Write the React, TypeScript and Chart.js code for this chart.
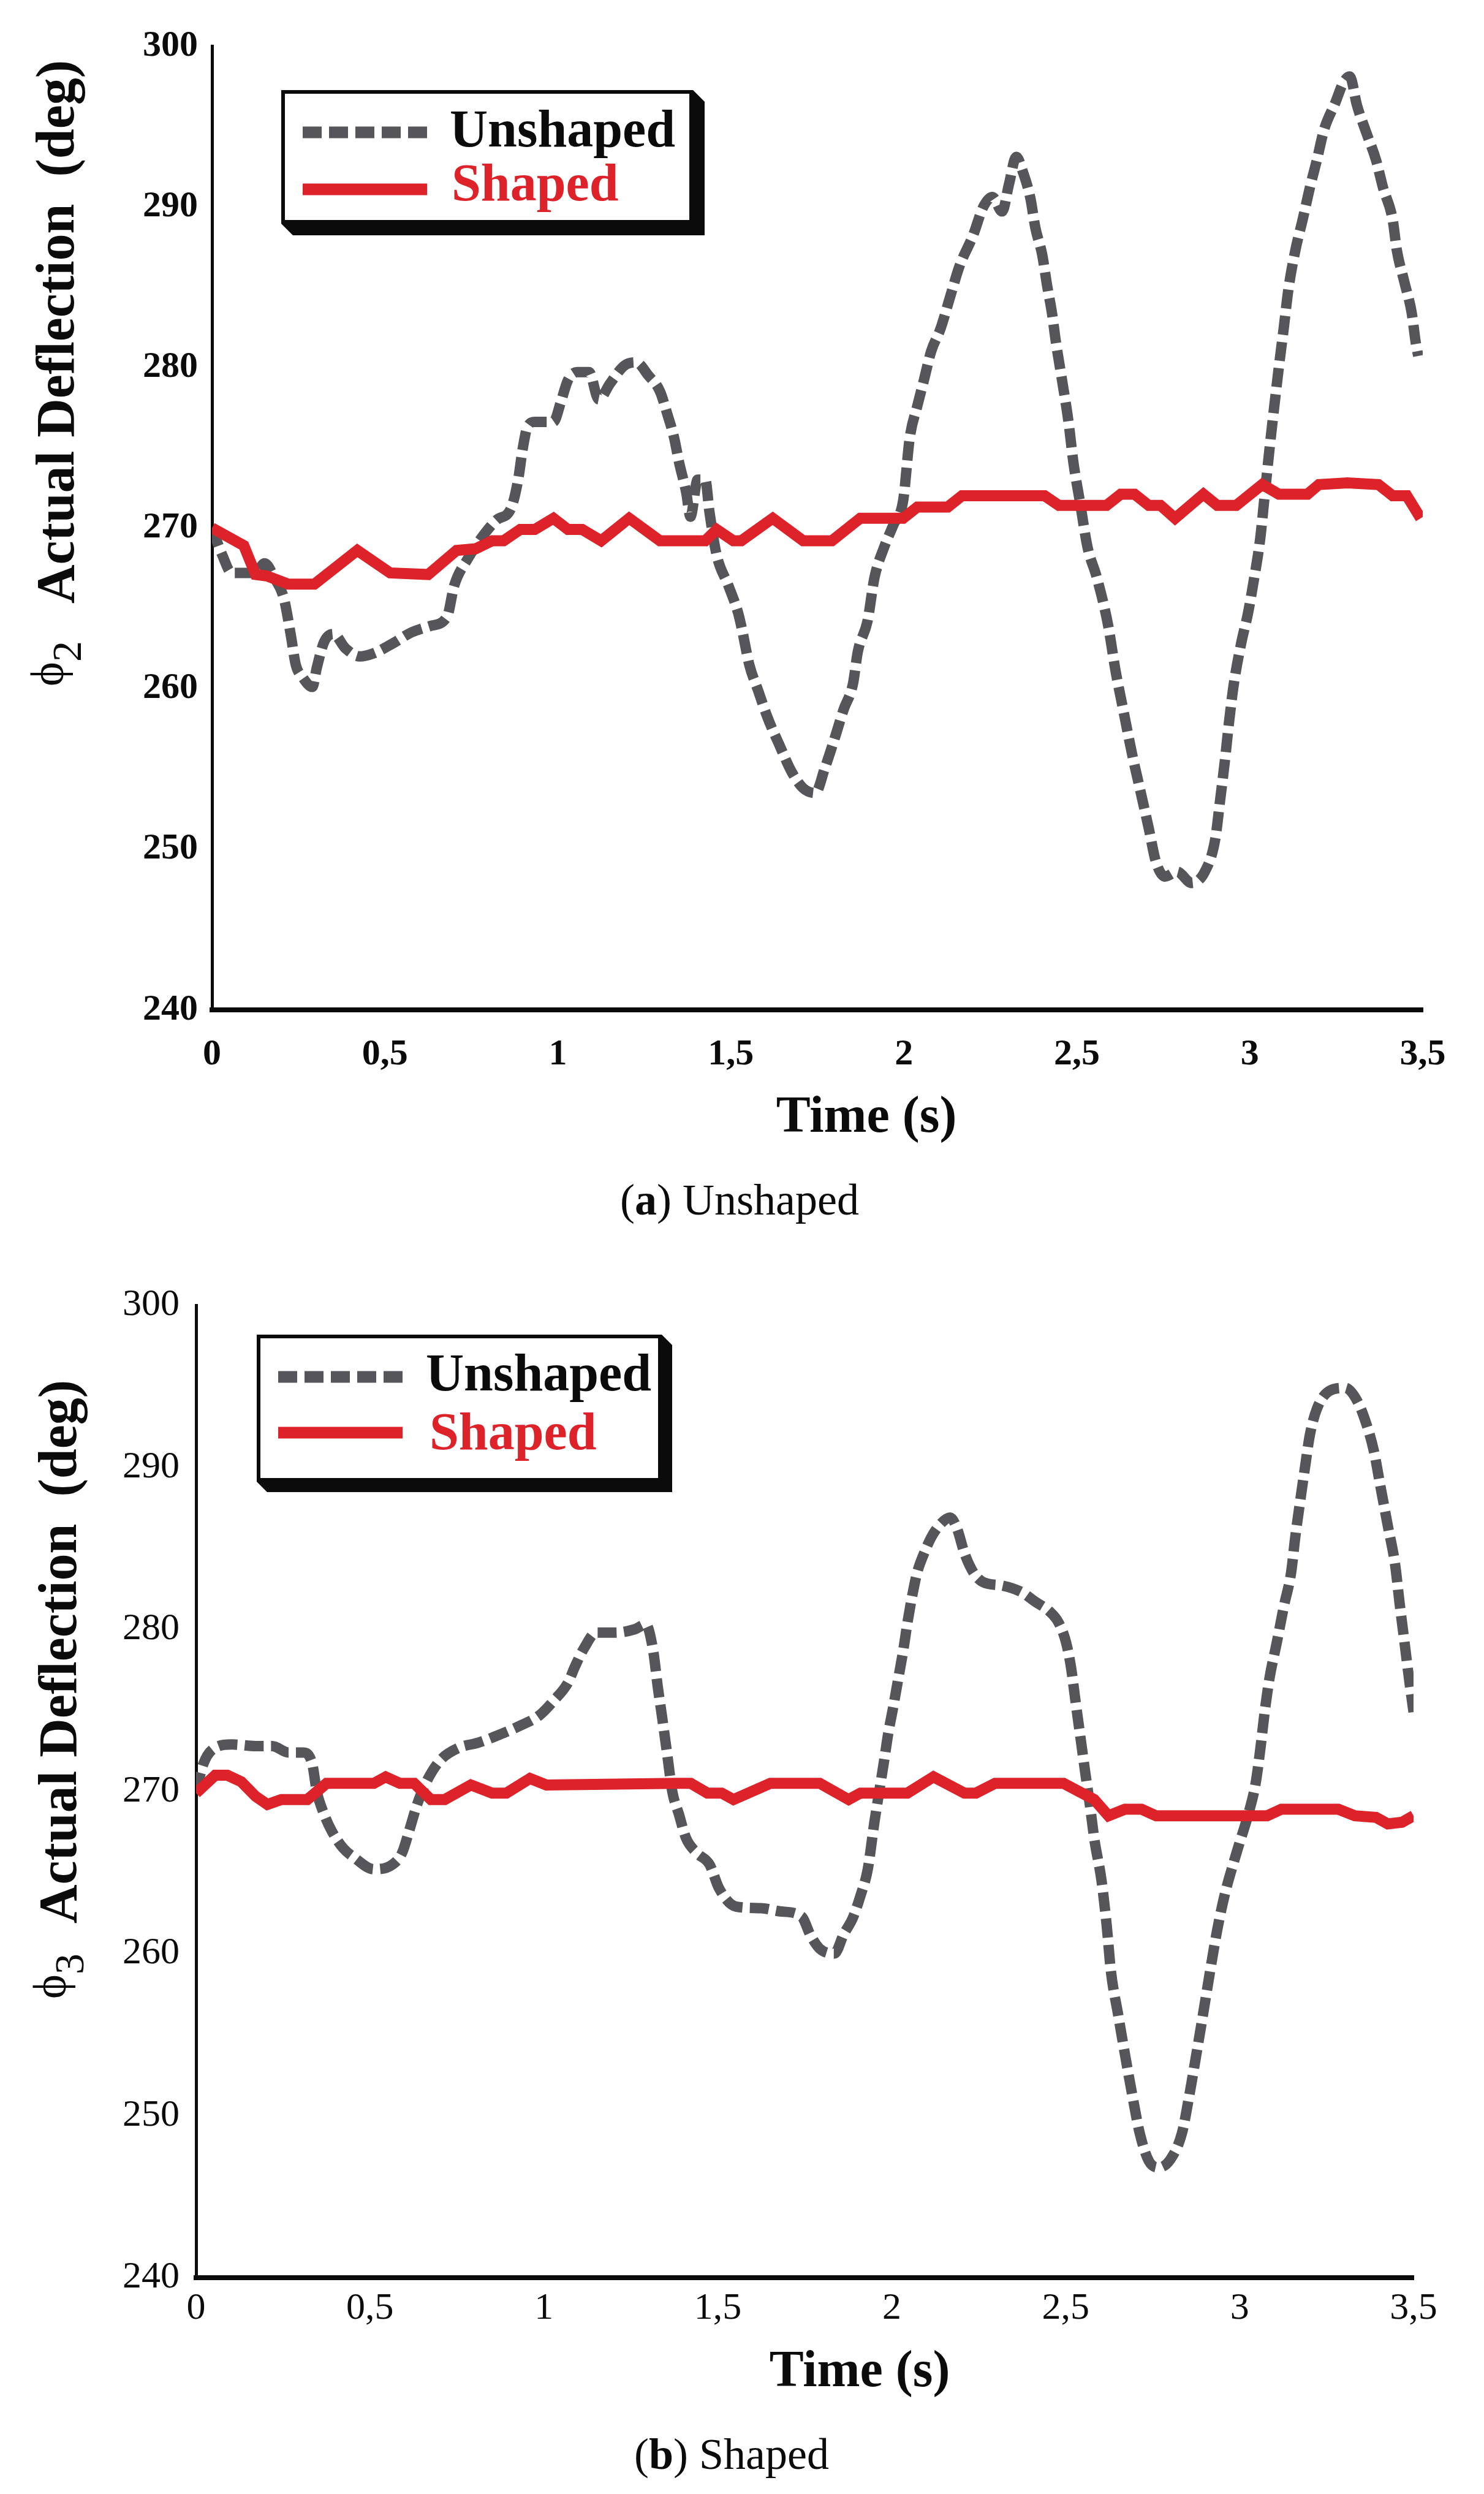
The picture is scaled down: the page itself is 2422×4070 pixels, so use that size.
import React, { useEffect, useRef } from 'react';
import { Chart, registerables } from 'chart.js';

Chart.register(...registerables);

// ---- data ----
const seriesNames = ['Unshaped', 'Shaped'];
const timeTickLabels = ['0', '0,5', '1', '1,5', '2', '2,5', '3', '3,5'];
const timeRange = [0, 3.5];
const deflectionRange = [240, 300];

// (a) phi2, unshaped input
const unshapedTimeA = [
  0, 0.03, 0.057, 0.126, 0.152, 0.18, 0.208, 0.228, 0.242, 0.262, 0.29, 0.303, 0.324, 0.351, 0.386,
  0.427, 0.468, 0.522, 0.577, 0.632, 0.68, 0.7, 0.74, 0.783, 0.823, 0.864, 0.885, 0.898, 0.912, 0.933,
  0.987, 1.008, 1.029, 1.056, 1.09, 1.118, 1.151, 1.192, 1.227, 1.261, 1.295, 1.316, 1.336, 1.35,
  1.371, 1.383, 1.404, 1.426, 1.438, 1.459, 1.493, 1.521, 1.532, 1.553, 1.58, 1.606, 1.642, 1.676,
  1.709, 1.744, 1.771, 1.8, 1.826, 1.853, 1.867, 1.895, 1.915, 1.943, 1.97, 1.998, 2.017, 2.039,
  2.058, 2.079, 2.106, 2.134, 2.161, 2.2, 2.23, 2.256, 2.284, 2.304, 2.325, 2.345, 2.366, 2.38, 2.4,
  2.414, 2.428, 2.44, 2.455, 2.476, 2.49, 2.51, 2.531, 2.558, 2.59, 2.612, 2.634, 2.66, 2.682, 2.708,
  2.729, 2.755, 2.79, 2.832, 2.87, 2.9, 2.914, 2.928, 2.94, 2.954, 2.975, 2.995, 3.009, 3.03, 3.043,
  3.057, 3.071, 3.084, 3.098, 3.112, 3.132, 3.153, 3.174, 3.194, 3.215, 3.248, 3.27, 3.289, 3.31,
  3.337, 3.365, 3.385, 3.413, 3.425, 3.447, 3.468, 3.48, 3.487,
];
const unshapedDeflA = [
  270.0, 268.3, 267.2, 267.2, 267.8, 266.9, 265.6, 263.3, 261.5, 260.7, 260.1, 261.3, 262.9, 263.4, 262.5,
  262.0, 262.2, 262.8, 263.5, 263.9, 264.5, 266.4, 268.1, 269.5, 270.5, 271.2, 273.0, 274.9, 276.3, 276.6,
  276.6, 277.8, 279.2, 279.7, 279.7, 278.0, 279.0, 280.1, 280.3, 279.5, 278.5, 277.1, 275.6, 274.1,
  272.2, 270.7, 273.0, 273.0, 271.0, 268.3, 266.4, 264.7, 263.7, 261.5, 259.8, 258.2, 256.4, 254.8,
  253.8, 253.5, 255.0, 256.9, 258.7, 260.3, 262.3, 264.2, 266.9, 268.8, 270.2, 271.7, 275.6, 277.6,
  279.2, 281.0, 282.4, 284.4, 286.3, 288.2, 290.0, 290.6, 289.7, 291.4, 293.1, 292.1, 290.5, 288.7, 287.0,
  285.1, 283.4, 281.5, 279.5, 276.6, 274.1, 271.5, 268.8, 266.9, 264.0, 261.1, 258.7, 255.9, 253.8, 251.3,
  249.2, 248.3, 248.6, 247.9, 248.6, 250.6, 253.0, 255.5, 257.9, 260.3, 262.8, 264.7, 266.4, 269.3, 272.0,
  274.9, 277.6, 280.0, 282.4, 284.9, 287.3, 289.2, 291.2, 292.9, 294.8, 296.5, 297.7, 298.1, 296.3,
  294.6, 292.9, 291.2, 289.2, 287.3, 285.3, 283.4, 281.5, 280.7,
];
const shapedTimeA = [
  0, 0.092, 0.126, 0.16, 0.22, 0.296, 0.42, 0.515, 0.625, 0.707, 0.762, 0.81, 0.843, 0.891, 0.933,
  0.987, 1.029, 1.07, 1.125, 1.206, 1.295, 1.426, 1.459, 1.507, 1.53, 1.621, 1.709, 1.792, 1.874,
  1.998, 2.039, 2.127, 2.168, 2.407, 2.448, 2.586, 2.627, 2.667, 2.708, 2.742, 2.784, 2.866, 2.906,
  2.961, 3.036, 3.084, 3.167, 3.2, 3.282, 3.372, 3.413, 3.454, 3.494,
];
const shapedDeflA = [
  270.0, 268.9, 267.1, 267.0, 266.5, 266.5, 268.6, 267.2, 267.1, 268.6, 268.7, 269.2, 269.2, 269.9, 269.9,
  270.6, 269.9, 269.9, 269.2, 270.6, 269.2, 269.2, 269.9, 269.2, 269.2, 270.6, 269.2, 269.2, 270.6,
  270.6, 271.3, 271.3, 272.0, 272.0, 271.4, 271.4, 272.1, 272.1, 271.4, 271.4, 270.6, 272.1, 271.4,
  271.4, 272.7, 272.1, 272.1, 272.7, 272.8, 272.7, 272.0, 272.0, 270.6,
];

// (b) phi3, shaped input
const unshapedTimeB = [
  0, 0.021, 0.048, 0.103, 0.171, 0.219, 0.266, 0.307, 0.334, 0.347, 0.368, 0.389, 0.423, 0.456, 0.511,
  0.565, 0.592, 0.613, 0.634, 0.66, 0.701, 0.756, 0.81, 0.872, 0.926, 0.987, 1.028, 1.069, 1.089,
  1.117, 1.15, 1.205, 1.26, 1.293, 1.314, 1.327, 1.341, 1.355, 1.369, 1.388, 1.409, 1.44, 1.476,
  1.504, 1.552, 1.624, 1.679, 1.74, 1.767, 1.793, 1.835, 1.862, 1.888, 1.909, 1.931, 1.95, 1.964,
  1.978, 1.99, 2.005, 2.019, 2.033, 2.045, 2.059, 2.073, 2.093, 2.114, 2.14, 2.168, 2.188, 2.209,
  2.235, 2.264, 2.318, 2.373, 2.413, 2.454, 2.48, 2.501, 2.515, 2.528, 2.542, 2.556, 2.57, 2.582,
  2.603, 2.618, 2.63, 2.651, 2.671, 2.692, 2.713, 2.739, 2.767, 2.801, 2.834, 2.855, 2.875, 2.896,
  2.915, 2.936, 2.958, 2.984, 2.998, 3.025, 3.046, 3.06, 3.072, 3.086, 3.107, 3.127, 3.148, 3.16,
  3.174, 3.188, 3.202, 3.222, 3.257, 3.303, 3.338, 3.364, 3.386, 3.405, 3.426, 3.447, 3.46, 3.474,
  3.488, 3.5,
];
const unshapedDeflB = [
  270.0, 271.7, 272.6, 272.9, 272.8, 272.8, 272.4, 272.4, 271.7, 270.0, 268.6, 267.6, 266.5, 265.9, 265.2,
  265.5, 266.2, 267.6, 269.1, 270.5, 271.9, 272.7, 273.0, 273.5, 274.0, 274.7, 275.6, 276.7, 277.7,
  278.9, 279.8, 279.8, 280.0, 280.3, 278.7, 276.5, 274.4, 272.2, 270.0, 268.6, 267.1, 266.2, 265.5,
  264.0, 262.9, 262.8, 262.6, 262.3, 261.1, 260.3, 260.0, 261.2, 262.2, 263.5, 265.2, 268.1, 270.0,
  271.9, 273.6, 275.3, 277.0, 278.7, 280.4, 282.1, 283.5, 284.7, 285.7, 286.5, 286.9, 286.2, 284.7,
  283.5, 282.9, 282.7, 282.3, 281.7, 281.1, 280.4, 279.2, 277.7, 275.6, 273.4, 271.2, 269.1, 267.1,
  264.5, 261.7, 258.9, 256.2, 253.7, 251.2, 248.9, 247.2, 246.8, 247.3, 248.9, 251.2, 253.7, 256.4,
  258.9, 261.5, 263.7, 265.7, 266.7, 268.6, 270.5, 272.7, 274.9, 277.0, 279.2, 281.4, 283.5, 285.7,
  287.9, 290.0, 292.0, 293.6, 294.7, 294.9, 294.1, 292.7, 291.0, 288.8, 286.4, 284.0, 281.6, 279.2,
  276.8, 274.9,
];
const shapedTimeB = [
  0, 0.055, 0.09, 0.13, 0.171, 0.205, 0.245, 0.32, 0.375, 0.511, 0.545, 0.586, 0.627, 0.675, 0.715,
  0.79, 0.851, 0.892, 0.96, 1.007, 1.381, 1.422, 1.47, 1.511, 1.545, 1.651, 1.793, 1.876, 1.91, 2.045,
  2.12, 2.209, 2.242, 2.297, 2.494, 2.582, 2.623, 2.67, 2.718, 2.76, 2.915, 3.079, 3.12, 3.284, 3.331,
  3.392, 3.426, 3.467, 3.5,
];
const shapedDeflB = [
  269.9, 271.0, 271.0, 270.6, 269.7, 269.2, 269.5, 269.5, 270.5, 270.5, 270.9, 270.5, 270.5, 269.5, 269.5,
  270.4, 269.9, 269.9, 270.8, 270.4, 270.5, 270.5, 269.9, 269.9, 269.5, 270.5, 270.5, 269.5, 269.9, 269.9,
  270.9, 269.9, 269.9, 270.5, 270.5, 269.5, 268.5, 268.9, 268.9, 268.5, 268.5, 268.5, 268.9, 268.9, 268.5,
  268.4, 268.0, 268.1, 268.5,
];

const GREY = '#55555a';
const RED = '#dd2229';
const INK = '#0b0b0b';
const SERIF = '"Liberation Serif", "Times New Roman", serif';
const PHI_FONT = '"Liberation Serif", "DejaVu Serif", serif';

const toPoints = (t: number[], v: number[]) => t.map((x, i) => ({ x, y: v[i] }));

interface PanelProps {
  top: number;
  height: number;
  area: { left: number; right: number; top: number; bottom: number };
  unshapedT: number[];
  unshapedV: number[];
  shapedT: number[];
  shapedV: number[];
  tickWeight: 'bold' | 'normal';
  tickSize: number;
  yTickPad: number;
  xTickPad: number;
  legend: {
    x: number; y: number; w: number; h: number; shadow: number;
    lineX1: number; lineX2: number; textX: number[];
    lineY: number[]; baseY: number[];
  };
  yTitle: { sub: string; phiX: number; phiY: number; subX: number; subY: number; textX: number; textY: number };
  xTitle: { x: number; y: number };
}

function Panel(p: PanelProps) {
  const canvasRef = useRef<HTMLCanvasElement>(null);
  const chartRef = useRef<Chart | null>(null);

  useEffect(() => {
    if (!canvasRef.current) return;
    const ctx = canvasRef.current.getContext('2d');
    if (!ctx) return;
    if (chartRef.current) chartRef.current.destroy();

    // legend box, axis titles (mixed fonts / rotated) drawn by hand
    const decor = {
      id: 'decor',
      afterDraw(chart: Chart) {
        const c = chart.ctx;
        const L = p.legend;
        c.save();
        // extruded shadow
        c.fillStyle = INK;
        c.beginPath();
        c.moveTo(L.x + L.w, L.y);
        c.lineTo(L.x + L.w + L.shadow, L.y + L.shadow);
        c.lineTo(L.x + L.w + L.shadow, L.y + L.h + L.shadow);
        c.lineTo(L.x + L.shadow, L.y + L.h + L.shadow);
        c.lineTo(L.x, L.y + L.h);
        c.closePath();
        c.fill();
        c.fillStyle = '#fff';
        c.fillRect(L.x, L.y, L.w, L.h);
        c.lineWidth = 6;
        c.strokeStyle = INK;
        c.strokeRect(L.x + 3, L.y + 3, L.w - 6, L.h - 6);

        chart.data.datasets.forEach((ds: any, i: number) => {
          c.beginPath();
          c.lineWidth = 19;
          c.lineCap = 'butt';
          c.strokeStyle = ds.borderColor;
          c.setLineDash(ds.borderDash || []);
          c.moveTo(L.lineX1, L.lineY[i]);
          c.lineTo(L.lineX2, L.lineY[i]);
          c.stroke();
          c.setLineDash([]);
          c.font = `bold 86px ${SERIF}`;
          c.fillStyle = i === 0 ? INK : RED;
          c.textBaseline = 'alphabetic';
          c.textAlign = 'left';
          c.fillText(ds.label, L.textX[i], L.baseY[i]);
        });

        const rot = (text: string, font: string, x: number, y: number) => {
          c.save();
          c.translate(x, y);
          c.rotate(-Math.PI / 2);
          c.font = font;
          c.fillStyle = INK;
          c.textAlign = 'left';
          c.textBaseline = 'alphabetic';
          c.fillText(text, 0, 0);
          c.restore();
        };
        const T = p.yTitle;
        rot('\u03D5', `76px ${PHI_FONT}`, T.phiX, T.phiY);
        rot(T.sub, `68px ${SERIF}`, T.subX, T.subY);
        rot('Actual Deflection  (deg)', `bold 88px ${SERIF}`, T.textX, T.textY);

        c.font = `bold 84px ${SERIF}`;
        c.fillStyle = INK;
        c.textAlign = 'center';
        c.textBaseline = 'middle';
        c.fillText('Time (s)', p.xTitle.x, p.xTitle.y);
        c.restore();
      },
    };

    const tickFont = { family: SERIF, size: p.tickSize, weight: p.tickWeight };

    chartRef.current = new Chart(ctx, {
      type: 'line',
      data: {
        datasets: [
          {
            label: seriesNames[0],
            data: toPoints(p.unshapedT, p.unshapedV),
            borderColor: GREY,
            borderWidth: 17,
            borderDash: [31, 12],
            borderCapStyle: 'butt',
            cubicInterpolationMode: 'monotone',
            pointRadius: 0,
            fill: false,
            order: 1,
          },
          {
            label: seriesNames[1],
            data: toPoints(p.shapedT, p.shapedV),
            borderColor: RED,
            borderWidth: 18,
            tension: 0,
            pointRadius: 0,
            fill: false,
            order: 0,
          },
        ],
      },
      options: {
        animation: false,
        responsive: false,
        devicePixelRatio: 1,
        layout: {
          padding: { left: 0, top: p.area.top, right: 2422 - p.area.right, bottom: 0 },
        },
        plugins: {
          legend: { display: false },
          tooltip: { enabled: false },
        },
        scales: {
          x: {
            type: 'linear',
            min: timeRange[0],
            max: timeRange[1],
            grid: { display: false, drawTicks: false },
            border: { display: true, color: INK, width: 8 },
            ticks: {
              stepSize: 0.5,
              padding: p.xTickPad,
              color: INK,
              font: tickFont,
              maxRotation: 0,
              autoSkip: false,
              callback: (v: any) => timeTickLabels[Math.round(Number(v) * 2)],
            },
            afterFit: (scale: any) => {
              scale.height = p.height - p.area.bottom;
            },
          },
          y: {
            min: deflectionRange[0],
            max: deflectionRange[1],
            grid: { display: false, drawTicks: false },
            border: { display: true, color: INK, width: 5 },
            ticks: { stepSize: 10, padding: p.yTickPad, color: INK, font: tickFont },
            afterFit: (scale: any) => {
              scale.width = p.area.left;
            },
          },
        },
      },
      plugins: [decor],
    } as any);

    return () => {
      if (chartRef.current) {
        chartRef.current.destroy();
        chartRef.current = null;
      }
    };
  }, []);

  return (
    <canvas
      ref={canvasRef}
      width={2422}
      height={p.height}
      style={{ position: 'absolute', left: 0, top: p.top, width: 2422, height: p.height }}
    />
  );
}

const captionStyle: React.CSSProperties = {
  position: 'absolute',
  fontFamily: SERIF,
  fontSize: 72,
  lineHeight: '72px',
  whiteSpace: 'nowrap',
  color: INK,
};

export default function App() {
  return (
    <div style={{ position: 'absolute', left: 0, top: 0, width: 2422, height: 4070, background: '#fff' }}>
      <Panel
        top={0}
        height={1900}
        area={{ left: 346, right: 2322, top: 75, bottom: 1648 }}
        unshapedT={unshapedTimeA}
        unshapedV={unshapedDeflA}
        shapedT={shapedTimeA}
        shapedV={shapedDeflA}
        tickWeight="bold"
        tickSize={60}
        yTickPad={23}
        xTickPad={37}
        legend={{
          x: 459, y: 147, w: 672, h: 218, shadow: 19,
          lineX1: 494, lineX2: 697, textX: [734, 737],
          lineY: [216, 309], baseY: [239, 327],
        }}
        yTitle={{ sub: '2', phiX: 103, phiY: 1120, subX: 132, subY: 1080, textX: 120, textY: 985 }}
        xTitle={{ x: 1414, y: 1825 }}
      />
      <div style={{ ...captionStyle, left: 1012, top: 1922 }}>
        (<b>a</b>) Unshaped
      </div>
      <Panel
        top={1960}
        height={1990}
        area={{ left: 320, right: 2307, top: 170, bottom: 1757 }}
        unshapedT={unshapedTimeB}
        unshapedV={unshapedDeflB}
        shapedT={shapedTimeB}
        shapedV={shapedDeflB}
        tickWeight="normal"
        tickSize={62}
        yTickPad={27}
        xTickPad={14}
        legend={{
          x: 419, y: 218, w: 661, h: 240, shadow: 17,
          lineX1: 454, lineX2: 657, textX: [695, 701],
          lineY: [287, 378], baseY: [309, 405],
        }}
        yTitle={{ sub: '3', phiX: 107, phiY: 1302, subX: 136, subY: 1262, textX: 124, textY: 1179 }}
        xTitle={{ x: 1403, y: 1912 }}
      />
      <div style={{ ...captionStyle, left: 1035, top: 3969 }}>
        (<b>b</b>) Shaped
      </div>
    </div>
  );
}
